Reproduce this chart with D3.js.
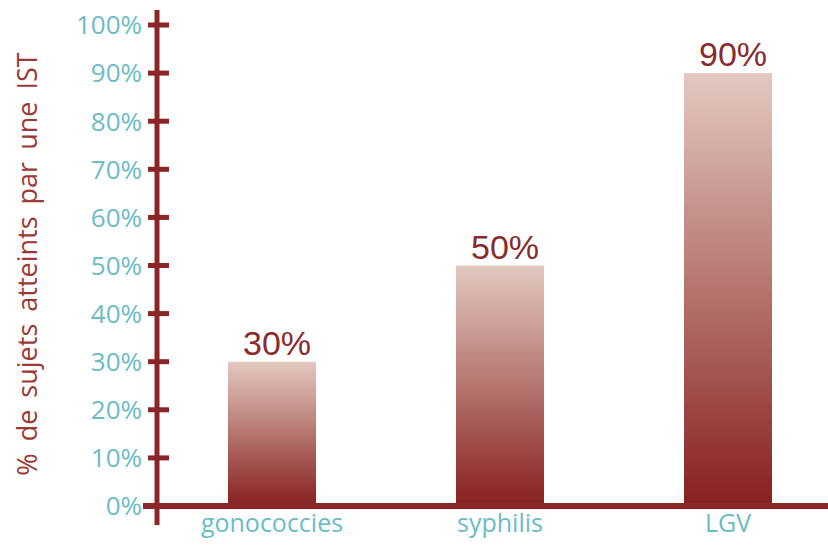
<!DOCTYPE html>
<html>
<head>
<meta charset="utf-8">
<script src="https://cdn.jsdelivr.net/npm/d3@7"></script>
<style>
  body { margin: 0; background: #fff; }
</style>
</head>
<body>
<div id="chart"></div>
<script>
var categories = ['gonococcies', 'syphilis', 'LGV'];
var values = [30, 50, 90];
var tickValues = [0, 10, 20, 30, 40, 50, 60, 70, 80, 90, 100];
var yTitle = '% de sujets atteints par une IST';

var W = 828, H = 545;
var axisColor = '#8a2528';
var tickColor = '#6bbcc5';

var svg = d3.select('#chart').append('svg')
  .attr('width', W)
  .attr('height', H);

var defs = svg.append('defs');
var grad = defs.append('linearGradient')
  .attr('id', 'barGrad')
  .attr('x1', 0).attr('y1', 0)
  .attr('x2', 0).attr('y2', 1);
grad.append('stop').attr('offset', '0%').attr('stop-color', '#e3c9c0');
grad.append('stop').attr('offset', '100%').attr('stop-color', '#87201f');

var y = d3.scaleLinear()
  .domain([0, 100])
  .range([506, 25]);

var x = d3.scaleBand()
  .domain(categories)
  .range([158, 842])
  .paddingInner(0.614)
  .paddingOuter(0.307);

var axisX = 157;

// bars
svg.selectAll('rect.bar')
  .data(values)
  .enter().append('rect')
    .attr('class', 'bar')
    .attr('x', function(d, i) { return x(categories[i]); })
    .attr('y', function(d) { return y(d); })
    .attr('width', x.bandwidth())
    .attr('height', function(d) { return y(0) - y(d); })
    .attr('fill', 'url(#barGrad)');

// value labels
svg.selectAll('text.val')
  .data(values)
  .enter().append('text')
    .attr('class', 'val')
    .attr('x', function(d, i) { return x(categories[i]) + x.bandwidth() / 2 + 5; })
    .attr('y', function(d) { return y(d) - 7; })
    .attr('text-anchor', 'middle')
    .attr('font-family', 'Liberation Sans, Arial, sans-serif')
    .attr('font-size', '34px')
    .attr('fill', '#8b2a2c')
    .text(function(d) { return d + '%'; });

// x axis line
svg.append('line')
  .attr('x1', 143).attr('x2', W)
  .attr('y1', y(0)).attr('y2', y(0))
  .attr('stroke', axisColor)
  .attr('stroke-width', 6);

// y axis line
svg.append('line')
  .attr('x1', axisX).attr('x2', axisX)
  .attr('y1', 10).attr('y2', 525)
  .attr('stroke', axisColor)
  .attr('stroke-width', 5);

// y ticks crossing the axis
svg.selectAll('line.tick')
  .data(tickValues.slice(1))
  .enter().append('line')
    .attr('class', 'tick')
    .attr('x1', 148).attr('x2', 169)
    .attr('y1', function(d) { return y(d); })
    .attr('y2', function(d) { return y(d); })
    .attr('stroke', axisColor)
    .attr('stroke-width', 5);

// y tick labels
svg.selectAll('text.ytick')
  .data(tickValues)
  .enter().append('text')
    .attr('class', 'ytick')
    .attr('x', 142)
    .attr('y', function(d) { return y(d); })
    .attr('dy', '0.36em')
    .attr('text-anchor', 'end')
    .attr('font-family', 'Open Sans, sans-serif')
    .attr('font-size', '26px')
    .attr('fill', tickColor)
    .text(function(d) { return d + '%'; });

// category labels
svg.selectAll('text.cat')
  .data(categories)
  .enter().append('text')
    .attr('class', 'cat')
    .attr('x', function(d) { return x(d) + x.bandwidth() / 2; })
    .attr('y', 532)
    .attr('text-anchor', 'middle')
    .attr('font-family', 'Open Sans, sans-serif')
    .attr('font-size', '25px')
    .attr('fill', tickColor)
    .text(function(d) { return d; });

// y title
svg.append('text')
  .attr('transform', 'translate(37,264) rotate(-90)')
  .attr('text-anchor', 'middle')
  .attr('font-family', 'Open Sans, sans-serif')
  .attr('font-size', '27px')
  .attr('word-spacing', '5px')
  .attr('fill', '#9b3a36')
  .text(yTitle);
</script>
</body>
</html>
